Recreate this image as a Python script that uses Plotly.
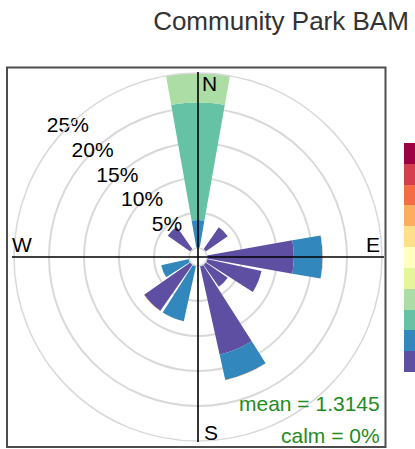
import plotly.graph_objects as go

# ---- data ----
directions = [0, 22.5, 45, 67.5, 90, 112.5, 135, 157.5,
              180, 202.5, 225, 247.5, 270, 292.5, 315, 337.5]
# percentage frequency per speed bin (stacked), one list per bin
bin1 = [0, 0, 3.9, 0, 12.4, 8.0, 3.9, 13.0, 0, 0, 8.1, 0, 0, 0, 4.0, 0]
bin2 = [4.0, 0, 0, 0, 4.1, 0, 0, 3.7, 0, 8.1, 0, 4.1, 0, 0, 0, 0]
bin3 = [16.8, 0, 0, 0, 0, 0, 0, 0, 0, 0, 0, 0, 0, 0, 0, 0]
bin4 = [4.2, 0, 0, 0, 0, 0, 0, 0, 0, 0, 0, 0, 0, 0, 0, 0]
bin8 = [0, 0, 0, 0, 0.05, 0, 0, 0.05, 0, 0, 0.05, 0, 0, 0, 0, 0]
bin_colors = ["#5E4FA2", "#3288BD", "#66C2A5", "#ABDDA4", "#E6F598", "#FFFFBF",
              "#FEE08B", "#FDAE61", "#F46D43", "#D53E4F", "#9E0142"]
series = [(bin1, 0), (bin2, 1), (bin3, 2), (bin4, 3), (bin8, 7)]
pct_ticks = [5, 10, 15, 20, 25]
pct_labels = ["5%", "10%", "15%", "20%", "25%"]
title_text = "Community Park BAM"
mean_text = "mean = 1.3145"
calm_text = "calm = 0%"

# ---- layout geometry (page pixels) ----
W, H = 415, 449
cx, cy, R = 198, 257, 184
hole_px = 9
FONT = "Liberation Sans, Arial, sans-serif"


def px(x):
    return x / W


def py(y):
    return 1 - y / H


fig = go.Figure()
for vals, ci in series:
    fig.add_trace(go.Barpolar(
        r=vals, theta=directions, width=20,
        marker=dict(color=bin_colors[ci], line=dict(width=0)),
        showlegend=False, hoverinfo="skip"))

fig.add_trace(go.Scatterpolar(
    r=pct_ticks, theta=[315] * len(pct_ticks), mode="text", text=pct_labels,
    textposition="middle center", textfont=dict(size=21, color="black", family=FONT),
    showlegend=False, hoverinfo="skip"))

# colour key (cropped legend on the right)
fig.add_trace(go.Heatmap(
    z=[[i] for i in range(len(bin_colors))],
    colorscale=[[i / (len(bin_colors) - 1), c] for i, c in enumerate(bin_colors)],
    zmin=0, zmax=len(bin_colors) - 1, showscale=False, hoverinfo="skip",
    xaxis="x", yaxis="y"))


def ann(text, x, y, xanchor="center", color="black"):
    return dict(text=text, x=px(x), y=py(y), xref="paper", yref="paper",
                xanchor=xanchor, yanchor="middle", showarrow=False,
                font=dict(size=21, color=color, family=FONT))


fig.update_layout(
    width=W, height=H,
    margin=dict(l=0, r=0, t=0, b=0),
    paper_bgcolor="white", plot_bgcolor="white",
    font=dict(family=FONT),
    title=dict(text=title_text, x=px(281), xanchor="center", y=py(21), yanchor="middle",
               font=dict(size=26, color="#333333", family=FONT)),
    polar=dict(
        domain=dict(x=[px(cx - R), px(cx + R)], y=[py(cy + R), py(cy - R)]),
        hole=hole_px / R,
        bgcolor="white",
        barmode="stack",
        radialaxis=dict(range=[0, 25], tickvals=pct_ticks, showticklabels=False,
                        ticks="", showline=False, showgrid=True,
                        gridcolor="#D9D9D9", gridwidth=1.5),
        angularaxis=dict(rotation=90, direction="clockwise", showgrid=False,
                         showticklabels=False, ticks="", showline=True,
                         linecolor="#D9D9D9", linewidth=1.5),
    ),
    xaxis=dict(domain=[px(404), 1], visible=False, fixedrange=True),
    yaxis=dict(domain=[py(372), py(143)], visible=False, fixedrange=True),
    shapes=[
        dict(type="line", xref="paper", yref="paper", x0=px(cx - 186), x1=px(cx + 186),
             y0=py(cy), y1=py(cy), line=dict(color="black", width=1.6)),
        dict(type="line", xref="paper", yref="paper", x0=px(cx), x1=px(cx),
             y0=py(cy - 185), y1=py(cy + 185), line=dict(color="black", width=1.6)),
        dict(type="rect", xref="paper", yref="paper", x0=px(7), x1=px(385.5),
             y0=py(447), y1=py(67.5), line=dict(color="#4D4D4D", width=2)),
    ],
    annotations=[
        ann("N", 209.5, 83),
        ann("E", 372.5, 244.5),
        ann("S", 210.5, 432.5),
        ann("W", 22, 244.5),
        ann(mean_text, 382, 403, xanchor="right", color="#228B22"),
        ann(calm_text, 382, 435, xanchor="right", color="#228B22"),
    ],
)

fig.write_html("out.html",
               config={"displayModeBar": False},
               post_script="document.body.style.margin='0';"
                           "document.documentElement.style.overflow='hidden';")
